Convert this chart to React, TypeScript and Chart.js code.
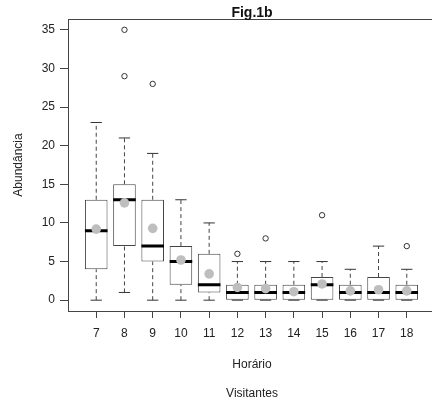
import React, { useEffect, useRef } from "react";
import { Chart, registerables } from "chart.js";

Chart.register(...registerables);

const hours = [7, 8, 9, 10, 11, 12, 13, 14, 15, 16, 17, 18];
const q1 = [4, 7, 5, 2, 1, 0, 0, 0, 0, 0, 0, 0];
const q3 = [13, 15, 13, 7, 6, 2, 2, 2, 3, 2, 3, 2];
const medians = [9, 13, 7, 5, 2, 1, 1, 1, 2, 1, 1, 1];
const means = [9.2, 12.6, 9.3, 5.2, 3.4, 1.65, 1.5, 1.1, 2.1, 1.2, 1.35, 1.2];
const whiskerLow = [0, 1, 0, 0, 0, 0, 0, 0, 0, 0, 0, 0];
const whiskerHigh = [23, 21, 19, 13, 10, 5, 5, 5, 5, 4, 7, 4];
const outlierHours = [8, 8, 9, 12, 13, 15, 18];
const outlierValues = [29, 35, 28, 6, 8, 11, 7];
const yTicks = [0, 5, 10, 15, 20, 25, 30, 35];

const titleText = "Fig.1b";
const xLabel = "Horário";
const yLabel = "Abundância";
const subLabel = "Visitantes";

const FONT = '"Liberation Sans", Arial, Helvetica, sans-serif';

export default function App() {
  const ref = useRef<HTMLCanvasElement | null>(null);

  useEffect(() => {
    if (!ref.current) return;

    const whiskerData: any[] = [];
    const capData: any[] = [];
    const medianData: any[] = [];
    hours.forEach((h, i) => {
      if (whiskerHigh[i] > q3[i]) {
        whiskerData.push({ x: h, y: q3[i] }, { x: h, y: whiskerHigh[i] }, { x: h, y: null });
      }
      if (whiskerLow[i] < q1[i]) {
        whiskerData.push({ x: h, y: whiskerLow[i] }, { x: h, y: q1[i] }, { x: h, y: null });
      }
      capData.push({ x: h - 0.2, y: whiskerHigh[i] }, { x: h + 0.2, y: whiskerHigh[i] }, { x: h, y: null });
      capData.push({ x: h - 0.2, y: whiskerLow[i] }, { x: h + 0.2, y: whiskerLow[i] }, { x: h, y: null });
      medianData.push({ x: h - 0.4, y: medians[i] }, { x: h + 0.4, y: medians[i] }, { x: h, y: null });
    });

    const textPlugin = {
      id: "texts",
      afterDraw(chart: any) {
        const { ctx, chartArea } = chart;
        ctx.save();
        ctx.strokeStyle = "#444";
        ctx.lineWidth = 1;
        ctx.strokeRect(
          chartArea.left + 0.5,
          chartArea.top + 0.5,
          chartArea.right - chartArea.left,
          chartArea.bottom - chartArea.top
        );
        ctx.fillStyle = "#111";
        ctx.textAlign = "center";
        ctx.textBaseline = "alphabetic";
        ctx.font = `bold 14px ${FONT}`;
        ctx.fillText(titleText, 252, 17);
        ctx.font = `12px ${FONT}`;
        ctx.fillStyle = "#222";
        ctx.fillText(xLabel, 252, 368);
        ctx.fillText(subLabel, 252, 397);
        ctx.translate(19, 165);
        ctx.rotate(-Math.PI / 2);
        ctx.textBaseline = "middle";
        ctx.fillText(yLabel, 0, 0);
        ctx.restore();
      },
    };

    const chart = new Chart(ref.current, {
      type: "bar",
      data: {
        datasets: [
          {
            type: "scatter",
            data: hours.map((h, i) => ({ x: h, y: means[i] })),
            pointRadius: 4.8,
            pointBackgroundColor: "#bebebe",
            pointBorderWidth: 0,
            order: 0,
          } as any,
          {
            type: "scatter",
            data: outlierHours.map((h, i) => ({ x: h, y: outlierValues[i] })),
            pointRadius: 2.7,
            pointBackgroundColor: "rgba(0,0,0,0)",
            pointBorderColor: "#333",
            pointBorderWidth: 1,
            order: 1,
          } as any,
          {
            type: "line",
            data: medianData,
            borderColor: "#000",
            borderWidth: 3,
            borderCapStyle: "butt",
            pointRadius: 0,
            spanGaps: false,
            order: 2,
          } as any,
          {
            type: "line",
            data: capData,
            borderColor: "#333",
            borderWidth: 1,
            pointRadius: 0,
            spanGaps: false,
            order: 3,
          } as any,
          {
            type: "line",
            data: whiskerData,
            borderColor: "#444",
            borderWidth: 1,
            borderDash: [4, 3],
            pointRadius: 0,
            spanGaps: false,
            order: 4,
          } as any,
          {
            type: "bar",
            data: hours.map((h, i) => ({ x: h, y: [q1[i], q3[i]] })),
            backgroundColor: "#ffffff",
            borderColor: "#444",
            borderWidth: 1,
            borderSkipped: false,
            barPercentage: 0.8,
            categoryPercentage: 1,
            grouped: false,
            order: 5,
          } as any,
        ],
      },
      options: {
        responsive: false,
        animation: false,
        events: [],
        layout: { padding: { top: 19, right: 5, left: 0, bottom: 0 } },
        plugins: {
          legend: { display: false },
          tooltip: { enabled: false },
          title: { display: false },
        },
        scales: {
          x: {
            type: "linear",
            min: 6,
            max: 19,
            offset: false,
            afterFit: (s: any) => {
              s.height = 92;
            },
            afterBuildTicks: (s: any) => {
              s.ticks = hours.map((v) => ({ value: v }));
            },
            grid: {
              display: true,
              offset: false,
              drawOnChartArea: false,
              drawTicks: true,
              tickLength: 7,
              color: "#444",
            },
            border: { display: false },
            ticks: {
              autoSkip: false,
              maxRotation: 0,
              padding: 8,
              color: "#222",
              font: { family: FONT, size: 12 },
              callback: (v: any) => String(v),
            },
          },
          y: {
            type: "linear",
            min: -1.4,
            max: 36.4,
            afterFit: (s: any) => {
              s.width = 68;
            },
            afterBuildTicks: (s: any) => {
              s.ticks = yTicks.map((v) => ({ value: v }));
            },
            grid: {
              display: true,
              drawOnChartArea: false,
              drawTicks: true,
              tickLength: 8,
              color: "#444",
            },
            border: { display: false },
            ticks: {
              padding: 5,
              color: "#222",
              font: { family: FONT, size: 12 },
              callback: (v: any) => String(v),
            },
          },
        },
      },
      plugins: [textPlugin],
    } as any);

    return () => chart.destroy();
  }, []);

  return (
    <div
      style={{
        position: "absolute",
        left: 0,
        top: 0,
        width: 432,
        height: 403,
        overflow: "hidden",
        background: "#fff",
      }}
    >
      <canvas ref={ref} width={440} height={403} style={{ width: 440, height: 403, display: "block" }} />
    </div>
  );
}
